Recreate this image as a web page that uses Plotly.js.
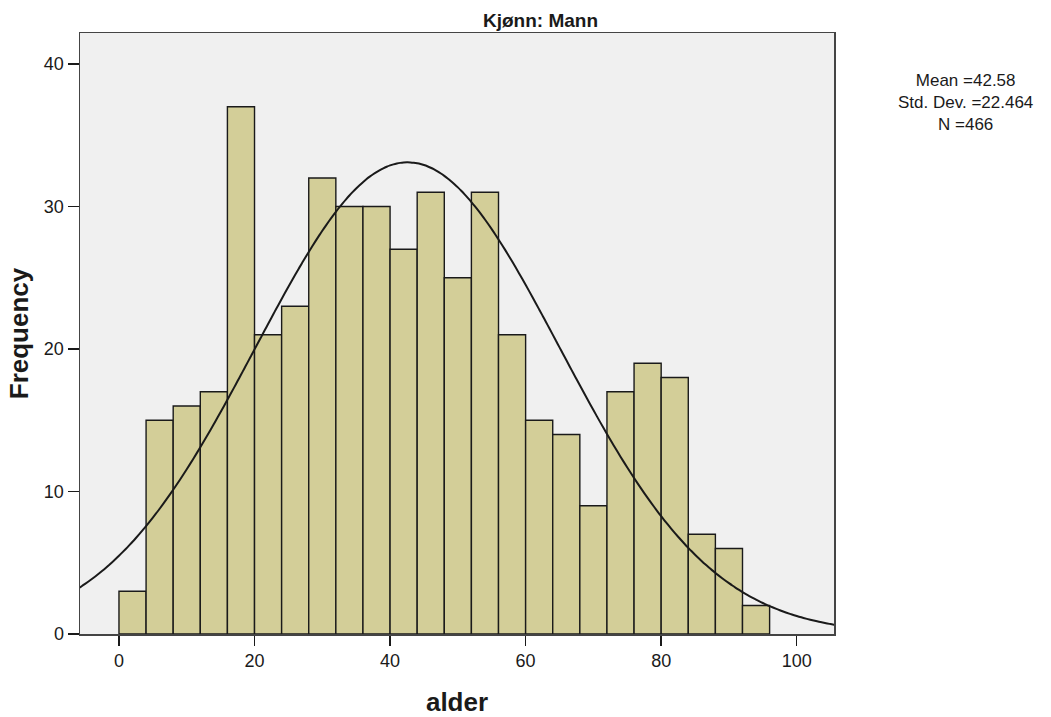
<!DOCTYPE html>
<html>
<head>
<meta charset="utf-8">
<script src="https://cdn.plot.ly/plotly-3.0.1.min.js"></script>
<style>html,body{margin:0;padding:0;background:#fff;}#chart{width:1051px;height:717px;}</style>
</head>
<body>
<div id="chart"></div>
<script>
// Histogram bins (age, width 4) and frequencies
const binStarts = [0,4,8,12,16,20,24,28,32,36,40,44,48,52,56,60,64,68,72,76,80,84,88,92];
const counts    = [3,15,16,17,37,21,23,32,30,30,27,31,25,31,21,15,14,9,17,19,18,7,6,2];
const binWidth = 4;
// Summary statistics shown on the chart
const meanVal = 42.58;
const sdVal = 22.464;
const nVal = 466;
const xTickVals = [0,20,40,60,80,100];
const yTickVals = [0,10,20,30,40];
const statLines = ['Mean =' + meanVal.toFixed(2), 'Std. Dev. =' + sdVal.toFixed(3), 'N =' + nVal];

// Fitted normal curve from the displayed statistics
const curveX = [], curveY = [];
for (let x = -6; x <= 106; x += 0.5) {
  curveX.push(x);
  curveY.push(nVal * binWidth / (sdVal * Math.sqrt(2 * Math.PI)) * Math.exp(-0.5 * Math.pow((x - meanVal) / sdVal, 2)));
}

const bars = {
  type: 'bar',
  x: binStarts.map(s => s + binWidth / 2),
  y: counts,
  width: binStarts.map(() => binWidth),
  marker: {color: '#d3ce98', line: {color: '#1a1a1a', width: 1.4}},
  hoverinfo: 'x+y',
  showlegend: false
};
const curve = {
  type: 'scatter', mode: 'lines',
  x: curveX, y: curveY,
  line: {color: '#1a1a1a', width: 2, shape: 'spline'},
  hoverinfo: 'skip', showlegend: false
};

const fontFam = '"Liberation Sans", Arial, sans-serif';
const plotL = 80, plotR = 834, plotT = 33, plotB = 634;
const pw = plotR - plotL, ph = plotB - plotT;
const px2x = p => (p - plotL) / pw;
const py2y = p => (plotB - p) / ph;

const annotations = [
  {text: '<b>Kjønn: Mann</b>', xref: 'paper', yref: 'paper', x: px2x(540), y: py2y(20), yanchor: 'middle',
   showarrow: false, font: {size: 19, family: fontFam, color: '#1a1a1a'}},
  {text: statLines.join('<br>'), xref: 'paper', yref: 'paper', x: px2x(965), y: py2y(102),
   xanchor: 'center', yanchor: 'middle', align: 'center',
   showarrow: false, font: {size: 17, family: fontFam, color: '#1a1a1a'}}
];

const layout = {
  width: 1051, height: 717,
  margin: {l: plotL, r: 1051 - plotR, t: plotT, b: 717 - plotB},
  paper_bgcolor: '#ffffff',
  plot_bgcolor: '#f0f0f0',
  bargap: 0,
  font: {family: fontFam, color: '#1a1a1a'},
  xaxis: {
    range: [-5.75, 105.5],
    tickvals: xTickVals,
    ticks: 'outside', ticklen: 10, tickcolor: '#1a1a1a', tickwidth: 1.5,
    showgrid: false, zeroline: false,
    showline: true, linecolor: '#444', linewidth: 1.5, mirror: true,
    tickfont: {size: 18, family: fontFam, color: '#1a1a1a'},
    title: {text: '<b>alder</b>', font: {size: 26, family: fontFam, color: '#1a1a1a'}, standoff: 22}
  },
  yaxis: {
    range: [0, 42.18],
    tickvals: yTickVals,
    ticks: 'outside', ticklen: 11, tickcolor: '#1a1a1a', tickwidth: 1.5,
    showgrid: false, zeroline: false,
    showline: true, linecolor: '#444', linewidth: 1.5, mirror: true,
    tickfont: {size: 18, family: fontFam, color: '#1a1a1a'},
    title: {text: '<b>Frequency</b>', font: {size: 26, family: fontFam, color: '#1a1a1a'}, standoff: 8}
  },
  annotations: annotations
};
Plotly.newPlot('chart', [bars, curve], layout, {displayModeBar: false, staticPlot: true});
</script>
</body>
</html>
